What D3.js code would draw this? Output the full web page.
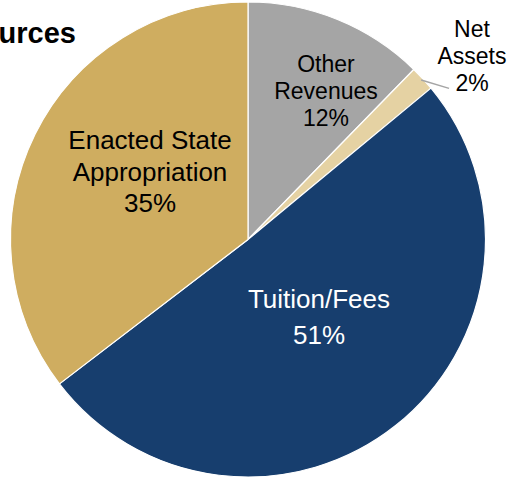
<!DOCTYPE html>
<html>
<head>
<meta charset="utf-8">
<script src="https://cdn.jsdelivr.net/npm/d3@7"></script>
<style>
  html, body { margin: 0; padding: 0; background: #fff; }
  svg { display: block; }
  text { font-family: "Liberation Sans", Arial, sans-serif; }
</style>
</head>
<body>
<svg id="chart" width="510" height="480"></svg>
<script>
// ---- data ----
const categories = ["Other Revenues", "Net Assets", "Tuition/Fees", "Enacted State Appropriation"];
const values = [12.3, 1.7, 50.6, 35.4];
const labelLines = [["Other", "Revenues", "12%"], ["Net", "Assets", "2%"], ["Tuition/Fees", "51%"], ["Enacted State", "Appropriation", "35%"]];
const colors = ["#A5A5A5", "#E5D2A3", "#173E6E", "#CFAD60"];
const titleText = "Sources";

// ---- layout ----
const W = 510, H = 480;
const cx = 248, cy = 239.5, R = 237.5;
// label anchor points (centre x, first baseline y, line spacing, font size, colour)
const labelLayout = [
  { x: 326, y: 72, dy: 27, size: 23, fill: "#000" },
  { x: 472, y: 37, dy: 27, size: 23, fill: "#000" },
  { x: 319, y: 308, dy: 36, size: 26, fill: "#fff" },
  { x: 150, y: 149, dy: 31.5, size: 26, fill: "#000" }
];

const svg = d3.select("#chart");

svg.append("text")
  .attr("x", 76).attr("y", 43)
  .attr("text-anchor", "end")
  .attr("font-size", 29).attr("font-weight", "bold")
  .attr("fill", "#000")
  .text(titleText);

const pie = d3.pie().sort(null).value(d => d.value).startAngle(0).endAngle(2 * Math.PI);
const data = categories.map((c, i) => ({ name: c, value: values[i], color: colors[i] }));
const arcs = pie(data);
const arc = d3.arc().innerRadius(0).outerRadius(R);

const g = svg.append("g").attr("transform", `translate(${cx},${cy})`);
g.selectAll("path").data(arcs).join("path")
  .attr("d", arc)
  .attr("fill", d => d.data.color)
  .attr("stroke", "#fff")
  .attr("stroke-width", 1.2)
  .attr("stroke-linejoin", "round");

// leader line for the small slice (Net Assets)
const small = arcs[1];
const mid = (small.startAngle + small.endAngle) / 2;
const p1 = [Math.sin(mid) * (R - 2), -Math.cos(mid) * (R - 2)];
const p2 = [Math.sin(mid + 0.1) * (R + 14), -Math.cos(mid + 0.1) * (R + 14)];
g.append("line")
  .attr("x1", p1[0]).attr("y1", p1[1])
  .attr("x2", p2[0]).attr("y2", p2[1])
  .attr("stroke", "#A5A5A5").attr("stroke-width", 1.5);

// labels
labelLines.forEach((lines, i) => {
  const L = labelLayout[i];
  const t = svg.append("text")
    .attr("text-anchor", "middle")
    .attr("font-size", L.size)
    .attr("fill", L.fill);
  lines.forEach((ln, j) => {
    t.append("tspan").attr("x", L.x).attr("y", L.y + j * L.dy).text(ln);
  });
});
</script>
</body>
</html>
